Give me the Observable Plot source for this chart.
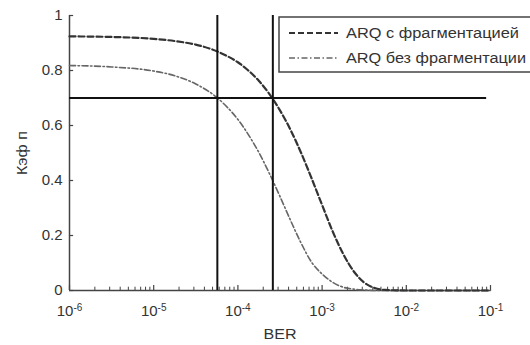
<!DOCTYPE html>
<html><head><meta charset="utf-8">
<script src="https://cdn.jsdelivr.net/npm/d3@7"></script>
<script src="https://cdn.jsdelivr.net/npm/@observablehq/plot@0.6"></script>
<style>
body{margin:0;background:#fff}
svg{font-family:"Liberation Sans",Arial,sans-serif}
</style>
</head><body><div id="chart"></div>
<script>
// BER (x values, log scale)
const ber = [1e-6, 3.16e-6, 1e-5, 1.78e-5, 3.16e-5, 5.62e-5, 7.5e-5, 1e-4, 1.33e-4, 1.78e-4, 2.37e-4, 3.16e-4, 4.22e-4, 5.62e-4, 7.5e-4, 1e-3, 1.33e-3, 1.78e-3, 2.37e-3, 3.16e-3, 4.22e-3, 5.62e-3, 1e-2, 3.16e-2, 1e-1];
// ARQ с фрагментацией
const withFrag = [0.924, 0.922, 0.915, 0.907, 0.894, 0.870, 0.852, 0.830, 0.800, 0.762, 0.714, 0.655, 0.584, 0.501, 0.408, 0.311, 0.216, 0.133, 0.070, 0.029, 0.009, 0.002, 0, 0, 0];
// ARQ без фрагментации
const withoutFrag = [0.818, 0.813, 0.798, 0.781, 0.751, 0.702, 0.666, 0.622, 0.567, 0.501, 0.425, 0.342, 0.255, 0.173, 0.103, 0.060, 0.030, 0.012, 0.005, 0.002, 0, 0, 0, 0, 0];
const seriesNames = ["ARQ с фрагментацией", "ARQ без фрагментации"];
// reference lines
const thresholdBER = [5.7e-5, 2.6e-4];
const levelK = 0.7;
const levelRange = [1e-6, 0.09];
// ticks
const xMajor = [1e-6, 1e-5, 1e-4, 1e-3, 1e-2, 1e-1];
const xExp = ["-6", "-5", "-4", "-3", "-2", "-1"];
const xMinor = xMajor.slice(0, -1).flatMap(d => [2,3,4,5,6,7,8,9].map(k => k * d));
const yTicks = [0, 0.2, 0.4, 0.6, 0.8, 1];

const dataWith = ber.map((b, i) => ({ber: b, k: withFrag[i]}));
const dataWithout = ber.map((b, i) => ({ber: b, k: withoutFrag[i]}));

const chart = Plot.plot({
  width: 530, height: 345,
  marginLeft: 69, marginRight: 40, marginTop: 15, marginBottom: 55,
  style: {fontFamily: '"Liberation Sans", Arial, sans-serif', background: "#fff", fontSize: "14px"},
  x: {type: "log", domain: [1e-6, 1e-1]},
  y: {domain: [0, 1]},
  marks: [
    Plot.axisX(xMajor, {tickSize: 0, tickPadding: 15, fill: "#333",
      tickFormat: (d) => xExp[xMajor.indexOf(d)], label: "BER", labelAnchor: "center", labelArrow: "none", labelOffset: 48}),
    Plot.axisY(yTicks, {tickSize: 0, tickPadding: 7, fill: "#333",
      tickFormat: d => String(+d.toFixed(1)), label: "Кэф п", labelAnchor: "center", labelArrow: "none", labelOffset: 52}),
    Plot.ruleY([0], {x1: 1e-6, x2: 1e-1, stroke: "#444", strokeWidth: 1.5}),
    Plot.ruleX([1e-6], {y1: 0, y2: 1, stroke: "#444", strokeWidth: 1.5}),
    Plot.ruleX(xMajor, {y1: 0, y2: 0.018, stroke: "#444", strokeWidth: 1.2}),
    Plot.ruleX(xMinor, {y1: 0, y2: 0.012, stroke: "#444", strokeWidth: 1}),
    Plot.ruleY(yTicks, {x1: 1e-6, x2: 1.12e-6, stroke: "#444", strokeWidth: 1.2}),
    Plot.line(dataWithout, {x: "ber", y: "k", curve: "monotone-x", stroke: "#666", strokeWidth: 1.6, strokeDasharray: "6,2.5,1.5,2.5"}),
    Plot.line(dataWith, {x: "ber", y: "k", curve: "monotone-x", stroke: "#333", strokeWidth: 2.2, strokeDasharray: "6,3"}),
    Plot.ruleX(thresholdBER, {y1: 0, y2: 1, stroke: "#111", strokeWidth: 2}),
    Plot.ruleY([levelK], {x1: levelRange[0], x2: levelRange[1], stroke: "#111", strokeWidth: 2})
  ]
});
document.getElementById("chart").appendChild(chart);

const svg = d3.select(chart);
// tick label sizes
svg.selectAll('g[aria-label="y-axis tick label"] text').attr("font-size", 15);
svg.selectAll('g[aria-label="x-axis tick label"] text').attr("font-size", 15).each(function() {
  const t = d3.select(this);
  const e = t.text();
  t.text("10");
  t.append("tspan").attr("dy", "-0.55em").attr("font-size", 10).text(e);
});
svg.selectAll('g[aria-label="x-axis label"] text').attr("textLength", 33).attr("lengthAdjust", "spacingAndGlyphs");
svg.selectAll('g[aria-label="y-axis label"] text').attr("textLength", 44).attr("lengthAdjust", "spacingAndGlyphs");

// legend
const lg = svg.append("g").attr("font-size", 14).attr("fill", "#333").attr("text-anchor", "start");
lg.append("rect").attr("x", 279).attr("y", 17).attr("width", 262).attr("height", 55)
  .attr("fill", "#fff").attr("stroke", "#444").attr("stroke-width", 1.5);
const dashes = [["6,3", "#333", 2.2], ["6,2.5,1.5,2.5", "#666", 1.6]];
const legendLen = [173, 180];
seriesNames.forEach((name, i) => {
  const y = 33 + i * 25;
  lg.append("line").attr("x1", 289).attr("x2", 338).attr("y1", y).attr("y2", y)
    .attr("stroke", dashes[i][1]).attr("stroke-width", dashes[i][2]).attr("stroke-dasharray", dashes[i][0]);
  lg.append("text").attr("x", 346).attr("y", y + 5).attr("text-anchor", "start")
    .attr("textLength", legendLen[i]).attr("lengthAdjust", "spacingAndGlyphs").text(name);
});
</script>
</body></html>
